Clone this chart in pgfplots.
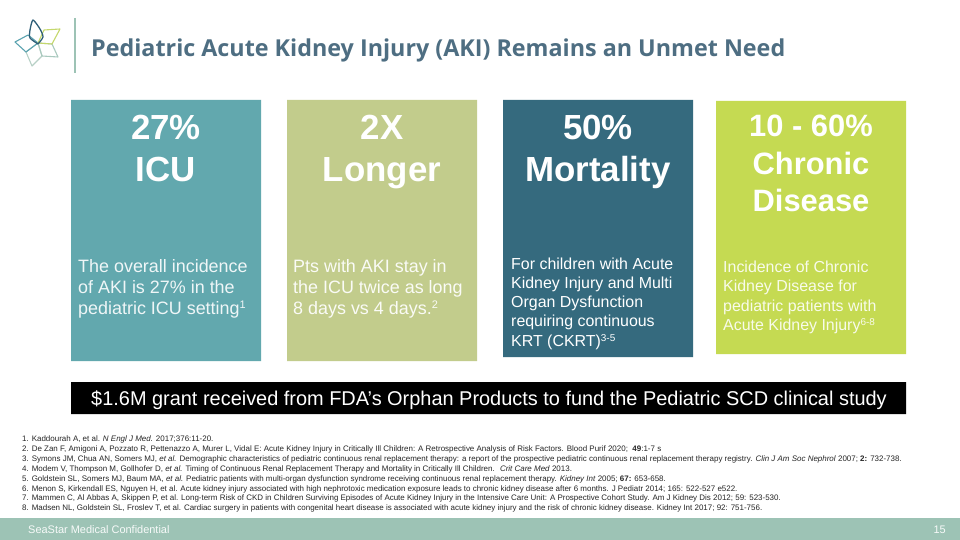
\documentclass[border=0pt]{standalone}
\usepackage{pgfplots}
\pgfplotsset{compat=1.18}
\usepackage{fontspec}
\setmainfont{Liberation Sans}
\newfontfamily\titlefont{Open Sans}
\definecolor{cA}{HTML}{62A8AE}
\definecolor{cB}{HTML}{C2CC8C}
\definecolor{cC}{HTML}{356A7E}
\definecolor{cD}{HTML}{C5DA52}
\definecolor{foot}{HTML}{9DC3B5}
\definecolor{ttl}{HTML}{4E6E82}
\definecolor{lgA}{HTML}{2E5E78}
\definecolor{lgB}{HTML}{C5D86D}
\definecolor{lgC}{HTML}{A9C9BE}
\definecolor{lgD}{HTML}{B7D0C6}
\definecolor{lgE}{HTML}{5BA3B0}
\newcommand{\fs}[1]{\fontsize{#1}{#1}\selectfont}
\newcommand{\supA}[1]{\raisebox{6.5pt}{\fs{11}#1}}
\newcommand{\supB}[1]{\raisebox{6pt}{\fs{10}#1}}
\begin{document}
\begin{tikzpicture}
\begin{axis}[width=960bp, height=540bp, scale only axis,
  xmin=0, xmax=960, ymin=0, ymax=540, y dir=reverse,
  hide axis, clip=false]
% background
\addplot[fill=white, draw=none] coordinates {(0,0) (960,0) (960,540) (0,540) (0,0)};
% footer band
\addplot[fill=foot, draw=none] coordinates {(0,518) (960,518) (960,540) (0,540) (0,518)};
% boxes
\addplot[fill=cA, draw=none] coordinates {(71,100) (261,100) (261,361) (71,361) (71,100)};
\addplot[fill=cB, draw=none] coordinates {(287,100) (477,100) (477,361) (287,361) (287,100)};
\addplot[fill=cC, draw=none] coordinates {(503,100) (693,100) (693,357) (503,357) (503,100)};
\addplot[fill=cD, draw=none] coordinates {(716,101) (906,101) (906,354) (716,354) (716,101)};
% banner
\addplot[fill=black, draw=none] coordinates {(71,382) (906,382) (906,414) (71,414) (71,382)};
% separator
\addplot[color=foot, line width=1.5pt] coordinates {(75,18) (75,73)};
% logo petals
\addplot[draw=lgD, line width=1.1pt, line join=round] coordinates {(38,43) (42,56) (32,66) (26,52) (38,43)};
\addplot[draw=lgC, line width=1.1pt, line join=round] coordinates {(38,43) (52,44) (58,57) (42,56) (38,43)};
\addplot[draw=lgE, line width=1.1pt, line join=round] coordinates {(38,43) (26,52) (15,42) (28,35) (38,43)};
\addplot[draw=lgB, line width=1.1pt, line join=round] coordinates {(38,43) (44,30) (60,29) (52,44) (38,43)};
\addplot[draw=lgA, line width=1.3pt, line join=round, smooth, tension=0.4] coordinates {(38,44) (30,38) (30,30) (33,20) (40,29) (43,37) (38,44)};
% title
\node[anchor=base west, inner sep=0, text=ttl] at (axis cs:91,57) {\titlefont\bfseries\fs{23.4}Pediatric Acute Kidney Injury (AKI) Remains an Unmet Need};
% headings
\begin{scope}[every node/.style={anchor=base, inner sep=0, text=white, font=\bfseries\fs{35}}]
\node at (axis cs:166,140) {27\%};
\node at (axis cs:166,182) {ICU};
\node at (axis cs:382,140) {2X};
\node at (axis cs:382,182) {Longer};
\node at (axis cs:598,140) {50\%};
\node at (axis cs:598,182) {Mortality};
\end{scope}
\begin{scope}[every node/.style={anchor=base, inner sep=0, text=white, font=\bfseries\fs{31}}]
\node at (axis cs:811,137) {10 - 60\%};
\node at (axis cs:811,175) {Chronic};
\node at (axis cs:811,212) {Disease};
\end{scope}
% body texts
\begin{scope}[every node/.style={anchor=base west, inner sep=0, font=\fs{18}}]
\node[text=white!90!cA] at (axis cs:78,273) {The overall incidence};
\node[text=white!90!cA] at (axis cs:78,294) {of AKI is 27\% in the};
\node[text=white!90!cA] at (axis cs:78,315) {pediatric ICU setting\supA{1}};
\node[text=white!92!cB] at (axis cs:293,273) {Pts with AKI stay in};
\node[text=white!92!cB] at (axis cs:293,294) {the ICU twice as long};
\node[text=white!92!cB] at (axis cs:293,315) {8 days vs 4 days.\supA{2}};
\end{scope}
\begin{scope}[every node/.style={anchor=base west, inner sep=0, font=\fs{16}}]
\node[text=white] at (axis cs:511,270) {For children with Acute};
\node[text=white] at (axis cs:511,289) {Kidney Injury and Multi};
\node[text=white] at (axis cs:511,308) {Organ Dysfunction};
\node[text=white] at (axis cs:511,327) {requiring continuous};
\node[text=white] at (axis cs:511,347) {KRT (CKRT)\supB{3-5}};
\node[text=white!88!cD] at (axis cs:723,273) {Incidence of Chronic};
\node[text=white!88!cD] at (axis cs:723,292) {Kidney Disease for};
\node[text=white!88!cD] at (axis cs:723,312) {pediatric patients with};
\node[text=white!88!cD] at (axis cs:723,331) {Acute Kidney Injury\supB{6-8}};
\end{scope}
% banner text
\node[anchor=base, inner sep=0, text=white, font=\fs{20}] at (axis cs:489,405) {\$1.6M grant received from FDA’s Orphan Products to fund the Pediatric SCD clinical study};
% references
\begin{scope}[every node/.style={anchor=base west, inner sep=0, font=\fs{8}, text=black!85}]
\node at (axis cs:22,441) {1. Kaddourah A, et al. \textit{N Engl J Med.} 2017;376:11-20.};
\node at (axis cs:22,451) {2. De Zan F, Amigoni A, Pozzato R, Pettenazzo A, Murer L, Vidal E: Acute Kidney Injury in Critically Ill Children: A Retrospective Analysis of Risk Factors. Blood Purif 2020;\ \ \textbf{49}:1-7 s};
\node at (axis cs:22,461) {3. Symons JM, Chua AN, Somers MJ, \textit{et al.} Demographic characteristics of pediatric continuous renal replacement therapy: a report of the prospective pediatric continuous renal replacement therapy registry. \textit{Clin J Am Soc Nephrol} 2007; \textbf{2:} 732-738.};
\node at (axis cs:22,471) {4. Modem V, Thompson M, Gollhofer D, \textit{et al.} Timing of Continuous Renal Replacement Therapy and Mortality in Critically Ill Children. \ \textit{Crit Care Med} 2013.};
\node at (axis cs:22,481) {5. Goldstein SL, Somers MJ, Baum MA, \textit{et al.} Pediatric patients with multi-organ dysfunction syndrome receiving continuous renal replacement therapy. \textit{Kidney Int} 2005; \textbf{67:} 653-658.};
\node at (axis cs:22,491) {6. Menon S, Kirkendall ES, Nguyen H, et al. Acute kidney injury associated with high nephrotoxic medication exposure leads to chronic kidney disease after 6 months. J Pediatr 2014; 165: 522-527 e522.};
\node at (axis cs:22,500) {7. Mammen C, Al Abbas A, Skippen P, et al. Long-term Risk of CKD in Children Surviving Episodes of Acute Kidney Injury in the Intensive Care Unit: A Prospective Cohort Study. Am J Kidney Dis 2012; 59: 523-530.};
\node at (axis cs:22,510) {8. Madsen NL, Goldstein SL, Froslev T, et al. Cardiac surgery in patients with congenital heart disease is associated with acute kidney injury and the risk of chronic kidney disease. Kidney Int 2017; 92: 751-756.};
\end{scope}
% footer
\node[anchor=base west, inner sep=0, text=white!92!foot, font=\fs{11}] at (axis cs:28,533) {SeaStar Medical Confidential};
\node[anchor=base east, inner sep=0, text=white!92!foot, font=\fs{11}] at (axis cs:946,533) {15};
\end{axis}
\end{tikzpicture}
\end{document}
